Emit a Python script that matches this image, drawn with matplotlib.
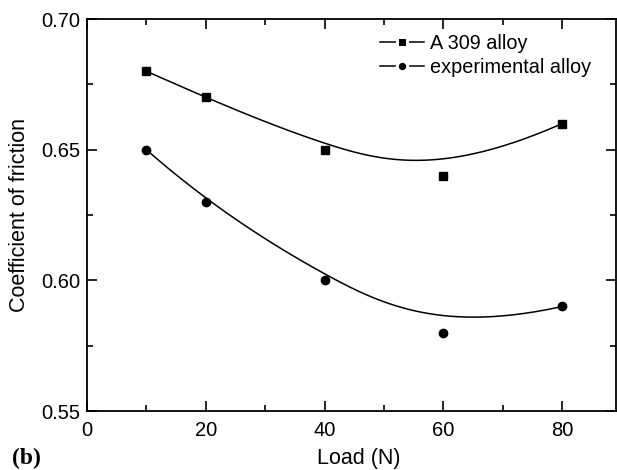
import matplotlib
matplotlib.use("Agg")
import matplotlib.pyplot as plt
import numpy as np
from matplotlib.ticker import MultipleLocator, FormatStrFormatter

# Données
load = [10, 20, 40, 60, 80]
a309 = [0.68, 0.67, 0.65, 0.64, 0.66]
experimental = [0.65, 0.63, 0.60, 0.58, 0.59]


# Courbe B-spline (points de mesure = points de contrôle), comme la liaison "B-Spline" d'Origin
def bspline(px, py, k=3, n=300):
    px, py = np.asarray(px, float), np.asarray(py, float)
    m = len(px)
    knots = np.concatenate([np.zeros(k), np.linspace(0, 1, m - k + 1), np.ones(k)])
    t = np.linspace(0, 1 - 1e-9, n)

    def basis(i, d):
        if d == 0:
            return ((knots[i] <= t) & (t < knots[i + 1])).astype(float)
        res = np.zeros_like(t)
        if knots[i + d] != knots[i]:
            res += (t - knots[i]) / (knots[i + d] - knots[i]) * basis(i, d - 1)
        if knots[i + d + 1] != knots[i + 1]:
            res += (knots[i + d + 1] - t) / (knots[i + d + 1] - knots[i + 1]) * basis(i + 1, d - 1)
        return res

    N = np.array([basis(i, k) for i in range(m)])
    return N.T @ px, N.T @ py


plt.rcParams['font.family'] = ['Liberation Sans', 'DejaVu Sans']

fig = plt.figure(figsize=(6.17, 4.70), dpi=100)
ax = fig.add_axes([0.141, 0.1255, 0.857, 0.834])

for y, marker, label in [(a309, 's', 'A 309 alloy'), (experimental, 'o', 'experimental alloy')]:
    cx, cy = bspline(load, y)
    ax.plot(cx, cy, color='black', lw=1.1)
    ax.plot(load, y, linestyle='none', marker=marker, color='black', markersize=6)
    # entrée de légende avec petit espace autour du symbole
    ax.plot([], [], color='black', lw=1.1, marker=marker, markersize=7.5,
            markeredgecolor='white', markeredgewidth=2.2, label=label)

ax.set_xlim(0, 89)
ax.set_ylim(0.55, 0.70)
ax.xaxis.set_major_locator(MultipleLocator(20))
ax.xaxis.set_minor_locator(MultipleLocator(10))
ax.yaxis.set_major_locator(MultipleLocator(0.05))
ax.yaxis.set_minor_locator(MultipleLocator(0.025))
ax.yaxis.set_major_formatter(FormatStrFormatter('%.2f'))
ax.tick_params(which='both', direction='in', top=True, right=True, labelsize=14.5, pad=5)
ax.tick_params(axis='x', which='major', pad=7)
ax.tick_params(which='major', length=7, width=1.2)
ax.tick_params(which='minor', length=4, width=1.2)
for s in ax.spines.values():
    s.set_linewidth(1.3)

ax.set_xlabel("Load (N)", fontsize=15.5)
ax.set_ylabel("Coefficient of friction", fontsize=15.5)
ax.xaxis.set_label_coords(0.514, -0.094)
ax.yaxis.set_label_coords(-0.108, 0.5)

ax.legend(loc='upper left', bbox_to_anchor=(0.554, 0.962), frameon=False, fontsize=14.3,
          handlelength=2.2, handletextpad=0.3, labelspacing=0.25, borderpad=0, borderaxespad=0)

fig.text(0.02, 0.012, "(b)", fontsize=17, fontweight='bold', family=['Liberation Serif', 'DejaVu Serif'])

plt.savefig("out.png", dpi=100)
